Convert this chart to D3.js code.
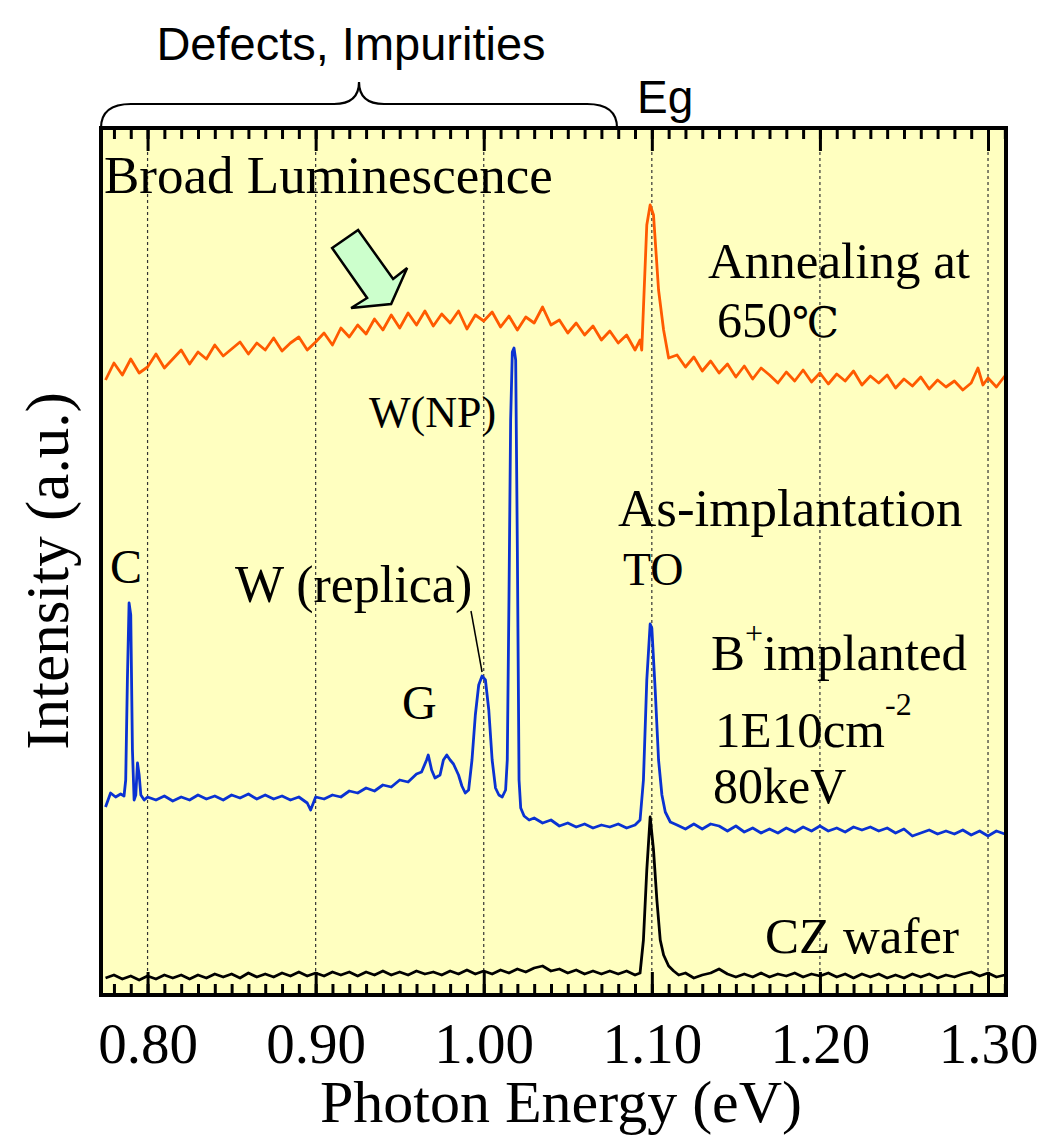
<!DOCTYPE html>
<html>
<head>
<meta charset="utf-8">
<script src="https://cdn.jsdelivr.net/npm/d3@7"></script>
<style>
  body { margin: 0; background: #fff; }
  svg { display: block; }
</style>
</head>
<body>
<svg id="chart" width="1040" height="1135"></svg>
<script>
// tick values and labels
const energyTicks = [0.80, 0.90, 1.00, 1.10, 1.20, 1.30];
const energyLabels = ["0.80", "0.90", "1.00", "1.10", "1.20", "1.30"];

// spectra: [photon energy (eV), intensity (a.u.)]
const annealing650 = [
  [0.775, 615], [0.780, 632], [0.785, 620], [0.790, 636], [0.795, 622], [0.800, 628],
  [0.805, 641], [0.810, 627], [0.815, 636], [0.820, 645], [0.825, 631], [0.830, 643],
  [0.835, 636], [0.840, 650], [0.845, 639], [0.850, 646], [0.855, 653], [0.860, 641],
  [0.865, 652], [0.870, 645], [0.875, 657], [0.880, 644], [0.885, 652], [0.890, 658],
  [0.895, 645], [0.900, 653], [0.905, 662], [0.910, 650], [0.915, 667], [0.920, 658],
  [0.925, 670], [0.930, 661], [0.935, 676], [0.940, 665], [0.945, 680], [0.950, 667],
  [0.955, 682], [0.960, 670], [0.965, 684], [0.970, 669], [0.975, 681], [0.980, 672],
  [0.985, 684], [0.990, 666], [0.995, 680], [1.000, 674], [1.005, 683], [1.010, 668],
  [1.015, 679], [1.020, 665], [1.025, 678], [1.030, 672], [1.035, 688], [1.040, 670],
  [1.045, 675], [1.050, 662], [1.055, 672], [1.060, 660], [1.065, 669], [1.070, 655],
  [1.075, 664], [1.080, 652], [1.085, 660], [1.090, 645], [1.093, 655], [1.094, 645],
  [1.097, 770], [1.099, 790], [1.101, 780], [1.104, 705], [1.107, 665], [1.110, 637],
  [1.115, 640], [1.120, 628], [1.125, 638], [1.130, 624], [1.135, 634], [1.140, 622],
  [1.145, 631], [1.150, 618], [1.155, 629], [1.160, 616], [1.165, 627], [1.170, 620],
  [1.175, 612], [1.180, 623], [1.185, 614], [1.190, 625], [1.195, 613], [1.200, 622],
  [1.205, 611], [1.210, 621], [1.215, 614], [1.220, 624], [1.225, 610], [1.230, 619],
  [1.235, 612], [1.240, 620], [1.245, 607], [1.250, 616], [1.255, 609], [1.260, 618],
  [1.265, 606], [1.270, 615], [1.275, 608], [1.280, 614], [1.285, 605], [1.290, 612],
  [1.294, 627], [1.297, 610], [1.300, 617], [1.305, 608], [1.310, 619]
];

const asImplanted = [
  [0.775, 188], [0.778, 202], [0.781, 198], [0.784, 201], [0.786, 199], [0.787, 215],
  [0.788, 315], [0.789, 392], [0.790, 380], [0.791, 245], [0.792, 195], [0.793, 200],
  [0.794, 232], [0.795, 220], [0.796, 200], [0.798, 195], [0.800, 198], [0.805, 195],
  [0.810, 199], [0.815, 194], [0.820, 198], [0.825, 195], [0.830, 200], [0.835, 196],
  [0.840, 199], [0.845, 195], [0.850, 200], [0.855, 197], [0.860, 201], [0.865, 196],
  [0.870, 200], [0.875, 196], [0.880, 199], [0.885, 195], [0.890, 198], [0.895, 192],
  [0.897, 185], [0.900, 198], [0.905, 196], [0.910, 200], [0.915, 198], [0.920, 204],
  [0.925, 202], [0.930, 207], [0.935, 204], [0.940, 210], [0.945, 208], [0.950, 215],
  [0.955, 213], [0.960, 221], [0.963, 223], [0.966, 235], [0.967, 240], [0.969, 225],
  [0.971, 217], [0.974, 220], [0.976, 235], [0.978, 240], [0.980, 235], [0.982, 231],
  [0.985, 220], [0.987, 209], [0.989, 202], [0.991, 205], [0.993, 235], [0.995, 280],
  [0.997, 310], [0.999, 319], [1.001, 315], [1.003, 285], [1.005, 235], [1.007, 207],
  [1.009, 200], [1.011, 198], [1.013, 205], [1.014, 235], [1.015, 395], [1.016, 575],
  [1.017, 643], [1.018, 647], [1.019, 635], [1.020, 445], [1.021, 215], [1.022, 187],
  [1.024, 179], [1.027, 175], [1.030, 177], [1.035, 172], [1.040, 175], [1.045, 169],
  [1.050, 172], [1.055, 168], [1.060, 171], [1.065, 167], [1.070, 170], [1.075, 168],
  [1.080, 171], [1.085, 167], [1.090, 170], [1.093, 175], [1.095, 215], [1.097, 315],
  [1.099, 371], [1.100, 367], [1.102, 305], [1.104, 235], [1.106, 200], [1.108, 183],
  [1.111, 173], [1.115, 170], [1.120, 166], [1.125, 171], [1.130, 166], [1.135, 171],
  [1.140, 169], [1.145, 164], [1.150, 169], [1.155, 163], [1.160, 167], [1.165, 162],
  [1.170, 166], [1.175, 162], [1.180, 167], [1.185, 163], [1.190, 168], [1.195, 164],
  [1.200, 169], [1.205, 164], [1.210, 167], [1.215, 163], [1.220, 168], [1.225, 165],
  [1.230, 168], [1.235, 164], [1.240, 167], [1.245, 162], [1.250, 166], [1.255, 159],
  [1.260, 162], [1.265, 165], [1.270, 161], [1.275, 164], [1.280, 161], [1.285, 165],
  [1.290, 160], [1.295, 164], [1.300, 159], [1.305, 164], [1.310, 161]
];

const czWafer = [
  [0.775, 17], [0.780, 20], [0.785, 16], [0.790, 19], [0.795, 15], [0.800, 19],
  [0.805, 16], [0.810, 20], [0.815, 17], [0.820, 20], [0.825, 16], [0.830, 20],
  [0.835, 17], [0.840, 21], [0.845, 18], [0.850, 21], [0.855, 17], [0.860, 22],
  [0.865, 18], [0.870, 21], [0.875, 18], [0.880, 22], [0.885, 19], [0.890, 23],
  [0.895, 19], [0.900, 22], [0.905, 19], [0.910, 23], [0.915, 20], [0.920, 23],
  [0.925, 19], [0.930, 23], [0.935, 20], [0.940, 24], [0.945, 20], [0.950, 23],
  [0.955, 20], [0.960, 24], [0.965, 21], [0.970, 23], [0.975, 20], [0.980, 24],
  [0.985, 21], [0.990, 25], [0.995, 21], [1.000, 24], [1.005, 21], [1.010, 25],
  [1.015, 22], [1.020, 26], [1.025, 23], [1.030, 27], [1.035, 29], [1.040, 24],
  [1.045, 26], [1.050, 22], [1.055, 25], [1.060, 21], [1.065, 24], [1.070, 21],
  [1.075, 24], [1.080, 21], [1.085, 24], [1.090, 20], [1.093, 22], [1.095, 55],
  [1.097, 125], [1.099, 178], [1.101, 145], [1.103, 95], [1.105, 55], [1.107, 40],
  [1.110, 29], [1.113, 24], [1.116, 20], [1.120, 22], [1.125, 17], [1.130, 20],
  [1.135, 22], [1.140, 26], [1.145, 21], [1.150, 18], [1.155, 21], [1.160, 18],
  [1.165, 22], [1.170, 18], [1.175, 21], [1.180, 19], [1.185, 22], [1.190, 18],
  [1.195, 21], [1.200, 19], [1.205, 22], [1.210, 18], [1.215, 21], [1.220, 17],
  [1.225, 21], [1.230, 18], [1.235, 21], [1.240, 17], [1.245, 20], [1.250, 17],
  [1.255, 21], [1.260, 18], [1.265, 21], [1.270, 17], [1.275, 20], [1.280, 18],
  [1.285, 21], [1.290, 23], [1.295, 19], [1.300, 22], [1.305, 18], [1.310, 20]
];

const serif = "'Liberation Serif', 'Times New Roman', serif";
const sans = "'Liberation Sans', Arial, sans-serif";

const svg = d3.select("#chart");

// plot box
const margin = { top: 128, right: 34, bottom: 140, left: 101 };
const width = 1040 - margin.left - margin.right;
const height = 1135 - margin.top - margin.bottom;

const x = d3.scaleLinear().domain([0.7723, 1.3107]).range([margin.left, margin.left + width]);
const y = d3.scaleLinear().domain([0, 867]).range([margin.top + height, margin.top]);

// stray frame edge on the right of the reference
svg.append("line")
  .attr("x1", 1042).attr("x2", 1042)
  .attr("y1", 4).attr("y2", 603)
  .attr("stroke", "#555")
  .attr("stroke-width", 2);

// background
svg.append("rect")
  .attr("x", margin.left).attr("y", margin.top)
  .attr("width", width).attr("height", height)
  .attr("fill", "#ffffc0");

svg.append("clipPath").attr("id", "clip")
  .append("rect")
  .attr("x", margin.left).attr("y", margin.top)
  .attr("width", width).attr("height", height);

// dotted grid
svg.append("g")
  .selectAll("line")
  .data(energyTicks)
  .join("line")
  .attr("x1", d => x(d)).attr("x2", d => x(d))
  .attr("y1", margin.top).attr("y2", margin.top + height)
  .attr("stroke", "#333")
  .attr("stroke-width", 1.2)
  .attr("stroke-dasharray", "3,3");

// spectra
const line = d3.line()
  .x(d => x(d[0]))
  .y(d => y(d[1]));

const series = [
  { data: annealing650, color: "#ff5a00" },
  { data: asImplanted, color: "#0a32d2" },
  { data: czWafer, color: "#000000" }
];

svg.append("g")
  .attr("clip-path", "url(#clip)")
  .selectAll("path")
  .data(series)
  .join("path")
  .attr("d", d => line(d.data))
  .attr("fill", "none")
  .attr("stroke", d => d.color)
  .attr("stroke-width", 2.8)
  .attr("stroke-linejoin", "round");

// ticks, pointing inward on top and bottom
const minorTicks = d3.range(78, 132).map(v => v / 100);

function tickAxis(axisFn, yPos, values, size) {
  const g = svg.append("g")
    .attr("transform", `translate(0,${yPos})`)
    .call(axisFn(x).tickValues(values).tickSize(-size).tickFormat(""));
  g.select(".domain").remove();
  g.selectAll("line").attr("stroke", "#000").attr("stroke-width", 3);
  return g;
}
tickAxis(d3.axisBottom, margin.top + height, minorTicks, 11);
tickAxis(d3.axisTop, margin.top, minorTicks, 11);
tickAxis(d3.axisTop, margin.top, energyTicks, 23);
const xAxis = tickAxis(d3.axisBottom, margin.top + height, energyTicks, 23);

// tick labels
xAxis.selectAll(".tick text")
  .data(energyLabels)
  .text(d => d)
  .attr("y", 68)
  .attr("dy", 0)
  .attr("fill", "#000")
  .style("font-family", serif)
  .style("font-size", "57px");

// frame
svg.append("rect")
  .attr("x", margin.left).attr("y", margin.top)
  .attr("width", width).attr("height", height)
  .attr("fill", "none")
  .attr("stroke", "#000")
  .attr("stroke-width", 4);

// axis titles
svg.append("text")
  .attr("x", 561).attr("y", 1122)
  .attr("text-anchor", "middle")
  .style("font-family", serif)
  .style("font-size", "60px")
  .text("Photon Energy (eV)");

svg.append("text")
  .attr("transform", "translate(68,571) rotate(-90)")
  .attr("text-anchor", "middle")
  .style("font-family", serif)
  .style("font-size", "61px")
  .text("Intensity (a.u.)");

// brace over the defect region
const bx0 = x(0.7723), bx1 = x(1.0793), bm = (bx0 + bx1) / 2;
const by0 = margin.top, by1 = 104, byc = 82;
svg.append("path")
  .attr("d", `M${bx0},${by0} Q${bx0},${by1} ${bx0 + 30},${by1} L${bm - 25},${by1} Q${bm},${by1} ${bm},${byc}`
    + ` Q${bm},${by1} ${bm + 25},${by1} L${bx1 - 30},${by1} Q${bx1},${by1} ${bx1},${by0}`)
  .attr("fill", "none")
  .attr("stroke", "#000")
  .attr("stroke-width", 2.2);

svg.append("text")
  .attr("x", bm - 8).attr("y", 60)
  .attr("text-anchor", "middle")
  .style("font-family", sans)
  .style("font-size", "47px")
  .text("Defects, Impurities");

svg.append("text")
  .attr("x", 637).attr("y", 113)
  .style("font-family", sans)
  .style("font-size", "46px")
  .text("Eg");

// arrow pointing at the broad band
const tip = [x(0.9449), y(691)];
const arrowShape = [[-59, -56], [-33, -74], [2, -25], [16, -36], [0, 0], [-40, 4], [-24, -6]];
svg.append("polygon")
  .attr("points", arrowShape.map(p => [tip[0] + p[0], tip[1] + p[1]].join(",")).join(" "))
  .attr("fill", "#ccffcc")
  .attr("stroke", "#000")
  .attr("stroke-width", 2.5)
  .attr("stroke-linejoin", "miter");

// leader for the W replica label
svg.append("line")
  .attr("x1", 471).attr("y1", 611)
  .attr("x2", x(0.999)).attr("y2", y(319) - 4)
  .attr("stroke", "#000")
  .attr("stroke-width", 1.5);

// annotations
const labels = [
  { text: "Broad Luminescence", x: 104, y: 193, size: 53 },
  { text: "Annealing at", x: 708, y: 278, size: 51 },
  { text: "W(NP)", x: 369, y: 427, size: 44 },
  { text: "As-implantation", x: 618, y: 526, size: 53 },
  { text: "TO", x: 623, y: 585, size: 46 },
  { text: "C", x: 110, y: 583, size: 48 },
  { text: "W (replica)", x: 235, y: 602, size: 52 },
  { text: "G", x: 402, y: 719, size: 48 },
  { text: "80keV", x: 713, y: 803, size: 50 },
  { text: "CZ wafer", x: 765, y: 953, size: 51 }
];

svg.append("g")
  .selectAll("text")
  .data(labels)
  .join("text")
  .attr("x", d => d.x)
  .attr("y", d => d.y)
  .style("font-family", serif)
  .style("font-size", d => d.size + "px")
  .text(d => d.text);

const tempLabel = svg.append("text")
  .attr("x", 717).attr("y", 337)
  .style("font-family", serif)
  .style("font-size", "50px");
tempLabel.append("tspan").text("650");
tempLabel.append("tspan").style("font-family", "'DejaVu Serif', serif").style("font-size", "42px").text("℃");

const bLabel = svg.append("text")
  .attr("x", 711).attr("y", 670)
  .style("font-family", serif)
  .style("font-size", "51px");
bLabel.append("tspan").text("B");
bLabel.append("tspan").attr("dy", -26).style("font-size", "32px").text("+");
bLabel.append("tspan").attr("dy", 26).text("implanted");

const doseLabel = svg.append("text")
  .attr("x", 715).attr("y", 747)
  .style("font-family", serif)
  .style("font-size", "51px");
doseLabel.append("tspan").text("1E10cm");
doseLabel.append("tspan").attr("dy", -32).style("font-size", "32px").text("-2");
</script>
</body>
</html>
